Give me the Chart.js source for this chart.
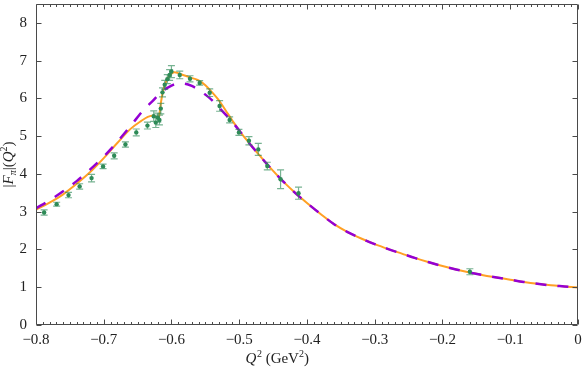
<!DOCTYPE html>
<html><head><meta charset="utf-8">
<style>html,body{margin:0;padding:0;background:#fff;}#wrap{width:582px;height:374px;}</style>
<script src="https://cdn.jsdelivr.net/npm/chart.js@4.4.1/dist/chart.umd.min.js"></script>
</head><body><div id="wrap"><canvas id="c" width="582" height="374"></canvas></div>
<script>
// ---- data ----
const xTicks = [-0.8, -0.7, -0.6, -0.5, -0.4, -0.3, -0.2, -0.1, 0];
const yTicks = [0, 1, 2, 3, 4, 5, 6, 7, 8];

// orange solid curve
const modelX = [-0.80,-0.78,-0.76,-0.74,-0.72,-0.70,-0.68,-0.66,-0.645,-0.635,-0.627,-0.622,-0.619,-0.6175,-0.6155,-0.613,-0.610,-0.606,-0.601,-0.596,-0.590,-0.583,-0.575,-0.568,-0.560,-0.550,-0.540,-0.530,-0.520,-0.510,-0.500,-0.490,-0.480,-0.470,-0.460,-0.450,-0.440,-0.430,-0.420,-0.410,-0.400,-0.380,-0.360,-0.340,-0.320,-0.300,-0.280,-0.260,-0.240,-0.220,-0.200,-0.180,-0.160,-0.140,-0.120,-0.100,-0.080,-0.060,-0.040,-0.020,0];
const modelY = [3.05,3.24,3.46,3.74,4.05,4.42,4.82,5.20,5.40,5.51,5.55,5.50,5.47,5.62,5.90,6.15,6.35,6.52,6.64,6.69,6.67,6.62,6.57,6.53,6.48,6.35,6.16,5.95,5.68,5.41,5.15,4.92,4.70,4.49,4.28,4.08,3.89,3.71,3.54,3.38,3.23,2.94,2.67,2.46,2.29,2.14,2.01,1.89,1.77,1.66,1.56,1.47,1.39,1.32,1.26,1.20,1.14,1.09,1.05,1.02,0.99];

// purple dashed curve
const fitX = [-0.80,-0.78,-0.76,-0.74,-0.72,-0.70,-0.68,-0.66,-0.64,-0.628,-0.615,-0.600,-0.590,-0.580,-0.570,-0.560,-0.550,-0.540,-0.530,-0.520,-0.510,-0.500,-0.490,-0.480,-0.470,-0.460,-0.450,-0.440,-0.430,-0.420,-0.410,-0.400,-0.380,-0.360,-0.340,-0.320,-0.300,-0.280,-0.260,-0.240,-0.220,-0.200,-0.180,-0.160,-0.140,-0.120,-0.100,-0.080,-0.060,-0.040,-0.020,0];
const fitY = [3.09,3.30,3.54,3.81,4.12,4.46,4.85,5.28,5.72,5.93,6.17,6.34,6.40,6.39,6.33,6.23,6.10,5.95,5.76,5.57,5.37,5.15,4.92,4.70,4.49,4.28,4.08,3.89,3.71,3.54,3.38,3.23,2.94,2.67,2.46,2.29,2.14,2.01,1.89,1.77,1.66,1.56,1.47,1.39,1.32,1.26,1.20,1.14,1.09,1.05,1.02,0.99];

// measured points with errors
const dataX = [-0.788,-0.7695,-0.752,-0.7356,-0.718,-0.701,-0.6846,-0.668,-0.652,-0.6355,-0.6262,-0.6232,-0.6203,-0.6178,-0.6158,-0.6133,-0.6100,-0.6062,-0.6028,-0.6001,-0.5878,-0.5727,-0.5584,-0.5436,-0.529,-0.5142,-0.5005,-0.4857,-0.4719,-0.4586,-0.439,-0.4125,-0.1596];
const dataY = [2.98,3.20,3.44,3.67,3.89,4.20,4.48,4.78,5.10,5.28,5.53,5.36,5.49,5.43,5.73,6.16,6.36,6.51,6.62,6.71,6.62,6.52,6.41,6.15,5.80,5.43,5.10,4.88,4.65,4.21,3.86,3.49,1.41];
const dataErr = [0.07,0.05,0.07,0.07,0.10,0.06,0.08,0.07,0.09,0.09,0.14,0.13,0.12,0.13,0.14,0.12,0.12,0.12,0.14,0.16,0.10,0.08,0.06,0.10,0.14,0.08,0.08,0.11,0.16,0.10,0.25,0.16,0.08];

const pts = (xs, ys) => xs.map((x, i) => ({x: x, y: ys[i]}));

const AXIS = '#4a4a4a';
const FONT = '"Liberation Serif", "DejaVu Serif", serif';

const errorBars = {
  id: 'errorBars',
  beforeDatasetDraw(chart, args) {
    if (args.index !== 0) return;
    const ctx = chart.ctx, xs = chart.scales.x, ys = chart.scales.y;
    ctx.save();
    ctx.strokeStyle = 'rgba(46,139,87,0.65)';
    ctx.lineWidth = 1.2;
    for (let i = 0; i < dataX.length; i++) {
      const px = xs.getPixelForValue(dataX[i]);
      const y1 = ys.getPixelForValue(dataY[i] - dataErr[i]);
      const y2 = ys.getPixelForValue(dataY[i] + dataErr[i]);
      ctx.beginPath();
      ctx.moveTo(px, y1); ctx.lineTo(px, y2);
      ctx.moveTo(px - 3.5, y1); ctx.lineTo(px + 3.5, y1);
      ctx.moveTo(px - 3.5, y2); ctx.lineTo(px + 3.5, y2);
      ctx.stroke();
    }
    ctx.restore();
  }
};

const frame = {
  id: 'frame',
  afterDraw(chart) {
    const ctx = chart.ctx, a = chart.chartArea, xs = chart.scales.x, ys = chart.scales.y;
    const L = Math.round(a.left) + 0.5, R = Math.round(a.right) - 0.5;
    const T = Math.round(a.top) + 0.5, B = Math.round(a.bottom) - 0.5;
    ctx.save();
    ctx.strokeStyle = AXIS;
    ctx.lineWidth = 1;
    ctx.beginPath();
    ctx.rect(L, T, R - L, B - T);
    for (let k = 0; k <= 80; k++) {
      const v = -0.8 + k * 0.01;
      const px = Math.round(xs.getPixelForValue(v)) + 0.5;
      const len = (k % 10 === 0) ? 5 : 2.5;
      ctx.moveTo(px, B); ctx.lineTo(px, B - len);
      ctx.moveTo(px, T); ctx.lineTo(px, T + len);
    }
    yTicks.forEach(v => {
      const py = Math.round(ys.getPixelForValue(v)) + 0.5;
      ctx.moveTo(L, py); ctx.lineTo(L + 5, py);
      ctx.moveTo(R, py); ctx.lineTo(R - 5, py);
    });
    ctx.stroke();

    ctx.fillStyle = '#222';
    ctx.textBaseline = 'alphabetic';
    const parts = (list) => list.map(p => {
      ctx.font = p.f;
      return Object.assign({w: ctx.measureText(p.t).width}, p);
    });
    const big = '15px ' + FONT, bigI = 'italic 15px ' + FONT, small = '10px ' + FONT, smallI = 'italic 10px ' + FONT;
    let xp = parts([
      {t: 'Q', f: bigI, dy: 0}, {t: '2', f: small, dy: -6},
      {t: ' (GeV', f: big, dy: 0}, {t: '2', f: small, dy: -6}, {t: ')', f: big, dy: 0}
    ]);
    let tw = xp.reduce((s, p) => s + p.w, 0);
    let cx = 277 - tw / 2;
    const by = 363;
    xp.forEach(p => { ctx.font = p.f; ctx.fillText(p.t, cx, by + p.dy); cx += p.w + (p.t === 'Q' ? 0.5 : 0); });
    ctx.save();
    ctx.translate(13, (a.top + a.bottom) / 2);
    ctx.rotate(-Math.PI / 2);
    let yp = parts([
      {t: '|', f: big, dy: 0}, {t: 'F', f: bigI, dy: 0}, {t: 'π', f: smallI, dy: 3},
      {t: '|(', f: big, dy: 0}, {t: 'Q', f: bigI, dy: 0}, {t: '2', f: small, dy: -6}, {t: ')', f: big, dy: 0}
    ]);
    tw = yp.reduce((s, p) => s + p.w, 0);
    cx = -tw / 2;
    yp.forEach(p => { ctx.font = p.f; ctx.fillText(p.t, cx, p.dy); cx += p.w; });
    ctx.restore();
    ctx.restore();
  }
};

new Chart(document.getElementById('c'), {
  type: 'scatter',
  data: {
    datasets: [
      {
        label: 'data', type: 'scatter', order: 0,
        data: pts(dataX, dataY),
        pointRadius: 2.2, pointStyle: 'circle',
        backgroundColor: '#2e8b57', borderColor: '#2e8b57', borderWidth: 0
      },
      {
        label: 'fit', type: 'line', order: 1,
        data: pts(fitX, fitY),
        borderColor: '#9400d3', borderWidth: 2.5, borderDash: [11, 11],
        pointRadius: 0, fill: false, cubicInterpolationMode: 'monotone'
      },
      {
        label: 'model', type: 'line', order: 2,
        data: pts(modelX, modelY),
        borderColor: '#ffa024', borderWidth: 2,
        pointRadius: 0, fill: false, cubicInterpolationMode: 'monotone'
      }
    ]
  },
  options: {
    responsive: false, animation: false,
    layout: {padding: {left: 0, right: 3, top: 1, bottom: 0}},
    plugins: {legend: {display: false}, tooltip: {enabled: false}},
    scales: {
      x: {
        type: 'linear', min: -0.8, max: 0,
        grid: {display: false, drawTicks: false}, border: {display: false},
        afterBuildTicks: s => { s.ticks = xTicks.map(v => ({value: v})); },
        afterFit: s => { s.height = 49; s.paddingLeft = 0; s.paddingRight = 0; },
        ticks: {
          color: '#222', font: {family: FONT, size: 15}, padding: 6, maxRotation: 0,
          callback: v => Math.abs(v) < 1e-9 ? '0' : '\u2212' + Math.abs(v).toFixed(1)
        }
      },
      y: {
        type: 'linear', min: 0, max: 8.5,
        grid: {display: false, drawTicks: false}, border: {display: false},
        afterBuildTicks: s => { s.ticks = yTicks.map(v => ({value: v})); },
        afterFit: s => { s.width = 36; s.paddingTop = 0; s.paddingBottom = 0; },
        ticks: {color: '#222', font: {family: FONT, size: 15}, padding: 9, callback: v => String(v)}
      }
    }
  },
  plugins: [errorBars, frame]
});
</script>
</body></html>
